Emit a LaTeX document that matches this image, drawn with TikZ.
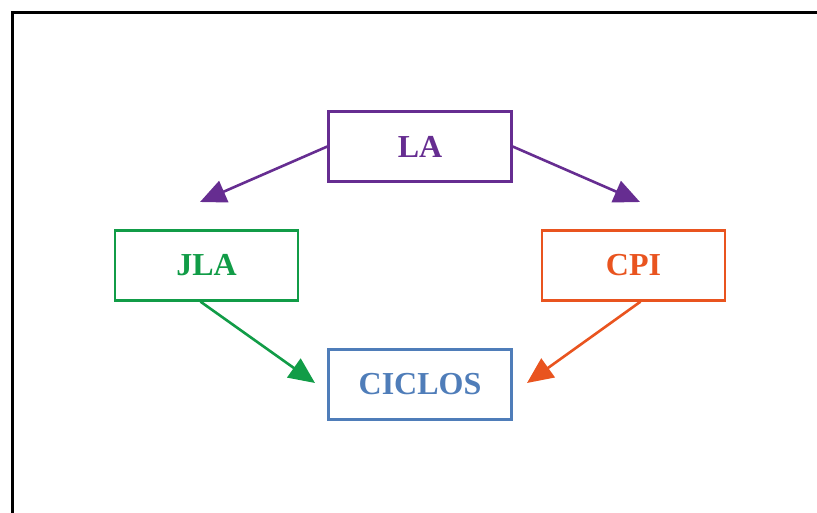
\documentclass[tikz,border=0pt]{standalone}
\usepackage{fontspec}
\setmainfont{Liberation Serif}
\usetikzlibrary{arrows.meta}
\definecolor{cpurple}{HTML}{662D91}
\definecolor{cgreen}{HTML}{119C47}
\definecolor{corange}{HTML}{E9541F}
\definecolor{cblue}{HTML}{4F7DB9}
\tikzset{
  box/.style={draw, line width=2.3pt, minimum width=183pt, minimum height=70pt,
    inner sep=0pt, font=\fontsize{32}{32}\selectfont\bfseries},
  link/.style={line width=2.6pt, -{Triangle[length=26pt, width=23pt]}}
}
\begin{document}
\begin{tikzpicture}[x=1pt, y=-1pt]
  \useasboundingbox (0,0) rectangle (817,513);
  % frame
  \draw[line width=3pt] (12,513) -- (12,13) -- (817,13);
  % boxes
  \node[box, draw=cpurple, text=cpurple] (LA) at (420,146.5) {LA};
  \node[box, draw=cgreen, text=cgreen] (JLA) at (206.5,265.5) {JLA};
  \node[box, draw=corange, text=corange] (CPI) at (633.5,265.5) {CPI};
  \node[box, draw=cblue, text=cblue] (CICLOS) at (420,384.5) {CICLOS};
  % arrow ends
  \coordinate (pl) at (200,202);
  \coordinate (pr) at (640,202);
  \coordinate (gl) at (315,383);
  \coordinate (gr) at (527,383);
  % connectors
  \draw[link, cpurple] (LA.west) -- (pl);
  \draw[link, cpurple] (LA.east) -- (pr);
  \draw[link, cgreen] ([xshift=-6pt]JLA.south) -- (gl);
  \draw[link, corange] ([xshift=7pt]CPI.south) -- (gr);
\end{tikzpicture}
\end{document}
